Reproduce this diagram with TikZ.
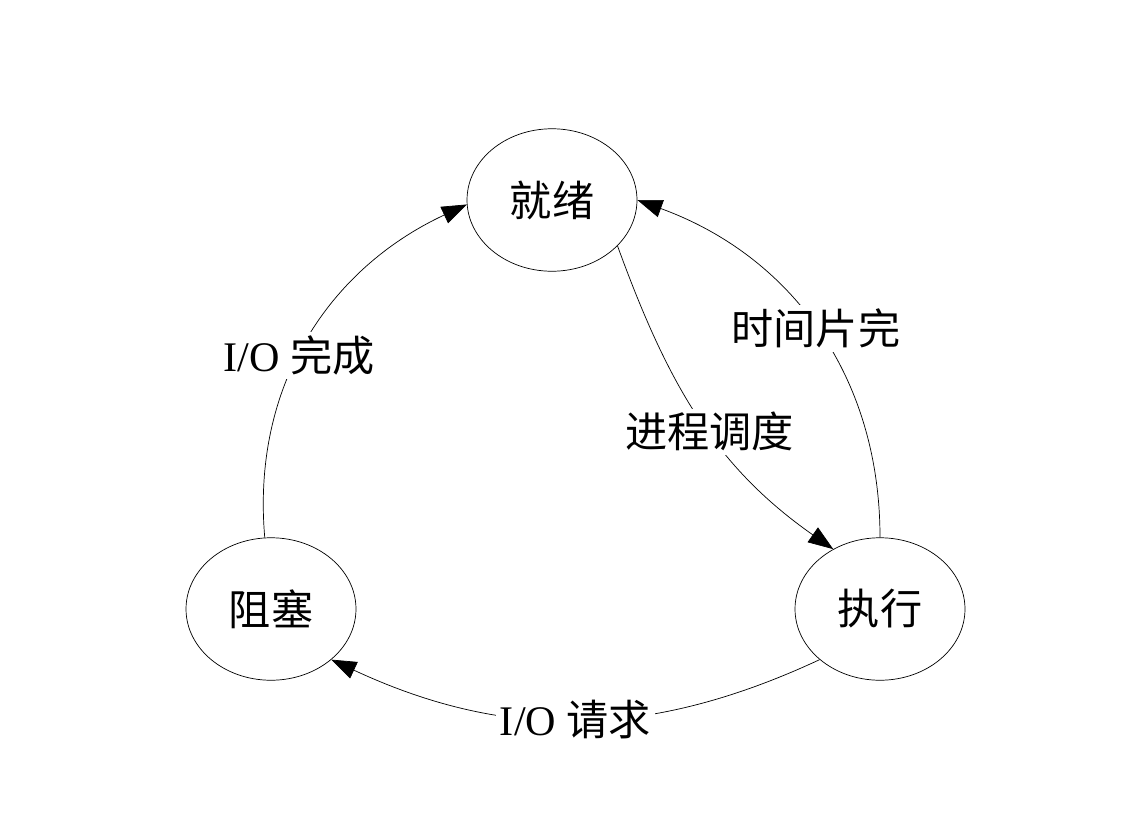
\documentclass[tikz,border=0pt]{standalone}
\usepackage{fontspec}
\newfontfamily\cjk{Noto Sans CJK SC}
\setmainfont{Liberation Serif}
\usetikzlibrary{arrows.meta,shapes.geometric}
\tikzset{
  state/.style = {draw, ellipse, minimum width = 3.4cm, minimum height = 2.85cm, font = \fontsize{24}{28}\selectfont\cjk},
  edge/.style = {-{Triangle[length = 0.5cm, width = 0.36cm]}, thin},
  lbl/.style = {fill = white, inner sep = 2pt, font = \fontsize{24}{28}\selectfont}
}
\begin{document}
\begin{tikzpicture}[x = 0.02cm, y = -0.02cm]
	\useasboundingbox (0, 0) rectangle (1126, 818);
	\node (ready) at (552, 200) [state] {就绪};
	\node (blocked) at (271, 609) [state] {阻塞};
	\node (running) at (880, 609) [state] {执行};
	% transitions
	\draw[edge] (blocked.95) to[out = 95, in = 205] node[lbl, pos = 0.45] (iodone) {I/O {\cjk 完成}} (ready.183);
	\draw[edge] (running.90) to[out = 90, in = -20] node[lbl, pos = 0.5] (slice) {\cjk 时间片完} (ready.0);
	\draw[edge] (ready.-35) to[out = -70, in = 145] node[lbl, pos = 0.55] (sched) {\cjk 进程调度} (running.128);
	\draw[edge] (running.-140) to[out = 205, in = -25] node[lbl, pos = 0.5] (ioreq) {I/O {\cjk 请求}} (blocked.-40);
\end{tikzpicture}
\end{document}
